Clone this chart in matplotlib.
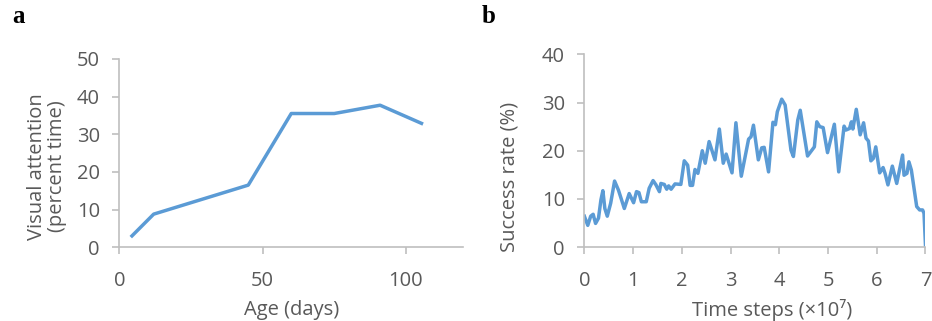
import matplotlib
matplotlib.use("Agg")
import matplotlib.pyplot as plt

# Panel a: visual attention against age
age_days = [4, 12, 45, 60, 75, 91, 106]
attention_pct = [2.7, 8.8, 16.5, 35.5, 35.5, 37.7, 32.7]

# Panel b: success rate during training (time steps in units of 1e7)
steps_e7 = [0.00, 0.07, 0.13, 0.18, 0.23, 0.29, 0.34, 0.38, 0.42, 0.47,
            0.54, 0.62, 0.70, 0.82, 0.92, 1.01, 1.07, 1.12, 1.17, 1.27,
            1.33, 1.41, 1.47, 1.54, 1.57, 1.64, 1.69, 1.73, 1.78, 1.86,
            1.98, 2.05, 2.12, 2.17, 2.22, 2.27, 2.33, 2.42, 2.48, 2.56,
            2.68, 2.77, 2.85, 2.91, 3.03, 3.11, 3.22, 3.37, 3.42, 3.47,
            3.57, 3.64, 3.69, 3.78, 3.87, 3.92, 3.96, 4.05, 4.12, 4.24,
            4.29, 4.38, 4.43, 4.58, 4.72, 4.77, 4.83, 4.90, 4.99, 5.13,
            5.22, 5.33, 5.37, 5.44, 5.48, 5.51, 5.58, 5.66, 5.73, 5.78,
            5.83, 5.88, 5.93, 5.98, 6.06, 6.13, 6.17, 6.23, 6.32, 6.41,
            6.53, 6.56, 6.62, 6.66, 6.71, 6.82, 6.88, 6.94, 6.97, 7.00]
success_pct = [6.4, 4.5, 6.4, 6.8, 4.9, 6.0, 9.8, 11.7, 8.0, 6.4,
               9.1, 13.7, 11.8, 8.0, 11.1, 9.2, 11.5, 11.3, 9.4, 9.4,
               12.2, 13.8, 12.9, 11.5, 13.2, 13.0, 12.0, 12.7, 12.0, 13.1,
               13.0, 17.9, 17.0, 12.8, 12.8, 16.1, 15.3, 20.0, 17.4, 21.9,
               18.1, 24.5, 17.4, 19.3, 15.4, 25.8, 14.7, 22.4, 22.9, 25.3,
               18.1, 20.6, 20.7, 15.6, 25.9, 25.4, 28.1, 30.7, 29.5, 20.1,
               18.8, 26.4, 28.4, 18.9, 20.8, 26.0, 25.0, 24.8, 19.6, 25.5,
               15.6, 25.1, 24.3, 24.6, 26.0, 24.5, 28.6, 23.3, 25.8, 22.6,
               22.0, 17.9, 18.4, 20.8, 15.4, 16.5, 15.3, 12.9, 16.8, 13.2,
               19.1, 14.9, 15.3, 17.7, 16.0, 8.4, 7.7, 7.7, 7.0, 0.4]

line_col = "#5B9BD5"
axis_col = "#BFBFBF"
text_col = "#595959"

plt.rcParams["font.family"] = ["Open Sans", "DejaVu Sans"]

fig = plt.figure(figsize=(9.32, 3.21), dpi=100)
ax1 = fig.add_axes([0.128, 0.2296, 0.369, 0.587])
ax2 = fig.add_axes([0.627, 0.2305, 0.366, 0.600])


def style_axes(ax):
    for s in ["top", "right"]:
        ax.spines[s].set_visible(False)
    for s in ["left", "bottom"]:
        ax.spines[s].set_color(axis_col)
        ax.spines[s].set_linewidth(1.2)
    ax.tick_params(axis="both", colors=axis_col, labelcolor=text_col,
                   labelsize=14.5, length=5, width=1.2, direction="out")
    ax.tick_params(axis="y", pad=9)
    ax.tick_params(axis="x", pad=12)


ax1.plot(age_days, attention_pct, color=line_col, lw=2.5, solid_capstyle="butt")
ax1.set_xlim(0, 120)
ax1.set_ylim(0, 50)
ax1.set_xticks([0, 50, 100])
ax1.set_yticks(range(0, 51, 10))
style_axes(ax1)
ax1.set_xlabel("Age (days)", fontsize=14.5, color=text_col)
ax1.xaxis.set_label_coords(0.50, -0.28)
ax1.set_ylabel("Visual attention\n(percent time)", fontsize=14.5,
               color=text_col, linespacing=1.0)
ax1.yaxis.set_label_coords(-0.152, 0.43)

ax2.plot(steps_e7, success_pct, color=line_col, lw=2.5)
ax2.set_xlim(0, 7)
ax2.set_ylim(0, 40)
ax2.set_xticks(range(0, 8))
ax2.set_yticks(range(0, 41, 10))
style_axes(ax2)
ax2.set_xlabel("Time steps (×10⁷)", fontsize=14.5, color=text_col)
ax2.xaxis.set_label_coords(0.55, -0.272)
ax2.set_ylabel("Success rate (%)", fontsize=14.5, color=text_col)
ax2.yaxis.set_label_coords(-0.19, 0.365)

fig.text(0.013, 0.927, "a", fontsize=18, fontweight="bold",
         family="Liberation Serif", va="baseline")
fig.text(0.517, 0.927, "b", fontsize=18, fontweight="bold",
         family="Liberation Serif", va="baseline")

fig.savefig("out.png", dpi=100)
